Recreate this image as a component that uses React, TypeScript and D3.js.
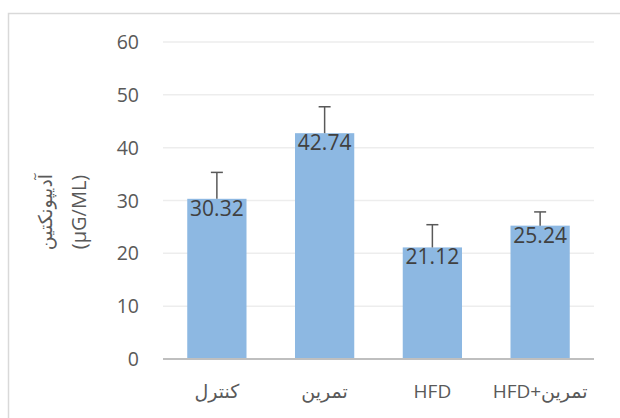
import * as d3 from 'd3';
import React from 'react';

const categories = ['کنترل', 'تمرین', 'HFD', 'HFD+تمرین'];
const values = [30.32, 42.74, 21.12, 25.24];
const errors = [5.0, 5.0, 4.3, 2.6];
const yTicks = [0, 10, 20, 30, 40, 50, 60];

const W = 620;
const H = 418;
const margin = {left: 163, right: 26, top: 42, bottom: 59};
const font = "'Open Sans', 'DejaVu Sans', sans-serif";

export default function App() {
  const x = d3.scaleBand<string>()
    .domain(categories)
    .range([margin.left, W - margin.right])
    .paddingInner(0.45)
    .paddingOuter(0.225);

  const y = d3.scaleLinear()
    .domain([0, 60])
    .range([H - margin.bottom, margin.top]);

  const bw = x.bandwidth();
  const capW = 12;

  return (
    <svg width={W} height={H} style={{position: 'absolute', left: 0, top: 0}} fontFamily={font}>
      <rect x={8.5} y={13.5} width={700} height={500} fill="#fff" stroke="#d9d9d9" strokeWidth={1.5}/>
      {yTicks.map(t => (
        <g key={t}>
          {t > 0 && (
            <line x1={margin.left} x2={W - margin.right} y1={y(t)} y2={y(t)} stroke="#ededed" strokeWidth={1.5}/>
          )}
          <text x={139} y={y(t)} dy="0.36em" textAnchor="end" fontSize={19.5} fill="#595959">{t}</text>
        </g>
      ))}
      {categories.map((c, i) => {
        const bx = x(c) ?? 0;
        const cx = bx + bw / 2;
        const top = y(values[i]);
        const eTop = y(values[i] + errors[i]);
        return (
          <g key={c}>
            <rect x={bx} y={top} width={bw} height={y(0) - top} fill="#8db8e2"/>
            <line x1={cx} x2={cx} y1={top} y2={eTop} stroke="#595959" strokeWidth={1.5}/>
            <line x1={cx - capW / 2} x2={cx + capW / 2} y1={eTop} y2={eTop} stroke="#595959" strokeWidth={1.5}/>
            <text x={cx} y={top + 17} textAnchor="middle" fontSize={21} fill="#404040">{values[i].toFixed(2)}</text>
            <text x={cx} y={398} textAnchor="middle" fontSize={19} fill="#595959">{c}</text>
          </g>
        );
      })}
      <line x1={margin.left} x2={W - margin.right} y1={y(0)} y2={y(0)} stroke="#bfbfbf" strokeWidth={2}/>
      <g transform={`translate(62, 212) rotate(-90)`}>
        <text x={0} y={-10} textAnchor="middle" fontSize={19} fill="#595959">آدیپونکتین</text>
        <text x={0} y={24} textAnchor="middle" fontSize={20} fill="#595959">(µG/ML)</text>
      </g>
    </svg>
  );
}
